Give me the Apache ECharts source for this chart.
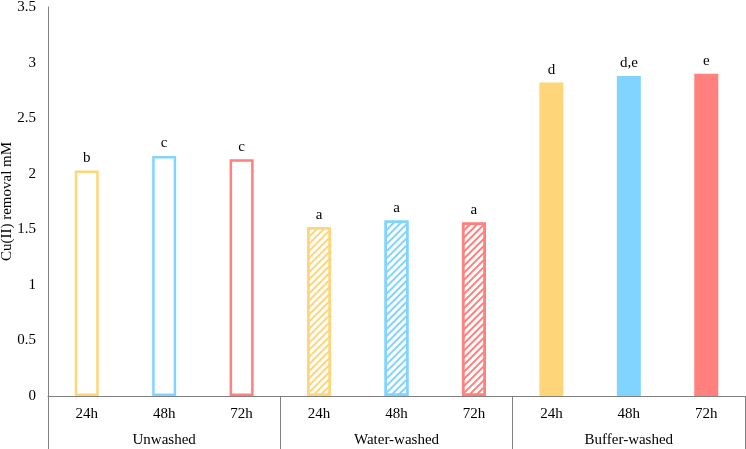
<!DOCTYPE html>
<html>
<head>
<meta charset="utf-8">
<script src="https://cdn.jsdelivr.net/npm/echarts@6/dist/echarts.min.js"></script>
<style>
  html, body { margin: 0; padding: 0; background: #fff; }
  #chart { width: 746px; height: 449px; }
</style>
</head>
<body>
<div id="chart"></div>
<script>
// data
const times = ["24h", "48h", "72h"];
const groups = ["Unwashed", "Water-washed", "Buffer-washed"];
const unwashed = [2.03, 2.16, 2.13];
const waterWashed = [1.52, 1.58, 1.56];
const bufferWashed = [2.82, 2.88, 2.9];
const letters = ["b", "c", "c", "a", "a", "a", "d", "d,e", "e"];
const yTicks = [0, 0.5, 1, 1.5, 2, 2.5, 3, 3.5];

const colors = ["#FFD57A", "#80D4FF", "#FF807C"];
const font = "Liberation Serif";

const categories = [];
groups.forEach(() => times.forEach((t) => categories.push(t)));

// one entry per bar, style depends on the group
const barData = [];
[unwashed, waterWashed, bufferWashed].forEach((vals, g) => {
  vals.forEach((v, i) => {
    const c = colors[i];
    let itemStyle;
    if (g === 0) {
      itemStyle = { color: "#fff", borderColor: c, borderWidth: 2.5 };
    } else if (g === 1) {
      itemStyle = {
        color: "#fff",
        borderColor: c,
        borderWidth: 2.5,
        decal: {
          symbol: "rect",
          color: c,
          dashArrayX: [1, 0],
          dashArrayY: [1.5, 3],
          rotation: -Math.PI / 4,
        },
      };
    } else {
      itemStyle = { color: c };
    }
    barData.push({ value: v, itemStyle });
  });
});

const chart = echarts.init(document.getElementById("chart"), null, { renderer: "canvas" });
chart.setOption({
  animation: false,
  textStyle: { fontFamily: font },
  grid: { left: 48, right: 1, top: 7, bottom: 53, containLabel: false, outerBoundsMode: "none" },
  xAxis: [
    {
      type: "category",
      data: categories,
      axisLine: { show: true, lineStyle: { color: "#7f7f7f", width: 1 } },
      axisTick: { show: false },
      axisLabel: { color: "#000", fontSize: 15, fontFamily: font, margin: 11, interval: 0 },
    },
    {
      type: "category",
      data: groups,
      position: "bottom",
      axisLine: { show: false },
      axisTick: { show: true, length: 53, lineStyle: { color: "#7f7f7f" } },
      axisLabel: { color: "#000", fontSize: 15, fontFamily: font, margin: 37 },
    },
  ],
  yAxis: {
    type: "value",
    min: yTicks[0],
    max: yTicks[yTicks.length - 1],
    interval: 0.5,
    name: "Cu(II) removal mM",
    nameLocation: "middle",
    nameGap: 33,
    nameMoveOverlap: false,
    nameTextStyle: { color: "#000", fontSize: 15, fontFamily: font },
    axisLine: { show: true, lineStyle: { color: "#7f7f7f", width: 1 } },
    axisTick: { show: false },
    splitLine: { show: false },
    axisLabel: { color: "#000", fontSize: 15, fontFamily: font, margin: 12 },
  },
  series: [
    {
      type: "bar",
      xAxisIndex: 0,
      barWidth: 24,
      data: barData,
      label: {
        show: true,
        position: "top",
        distance: 5,
        color: "#000",
        fontSize: 15,
        fontFamily: font,
        formatter: (p) => letters[p.dataIndex],
      },
    },
  ],
});
</script>
</body>
</html>
